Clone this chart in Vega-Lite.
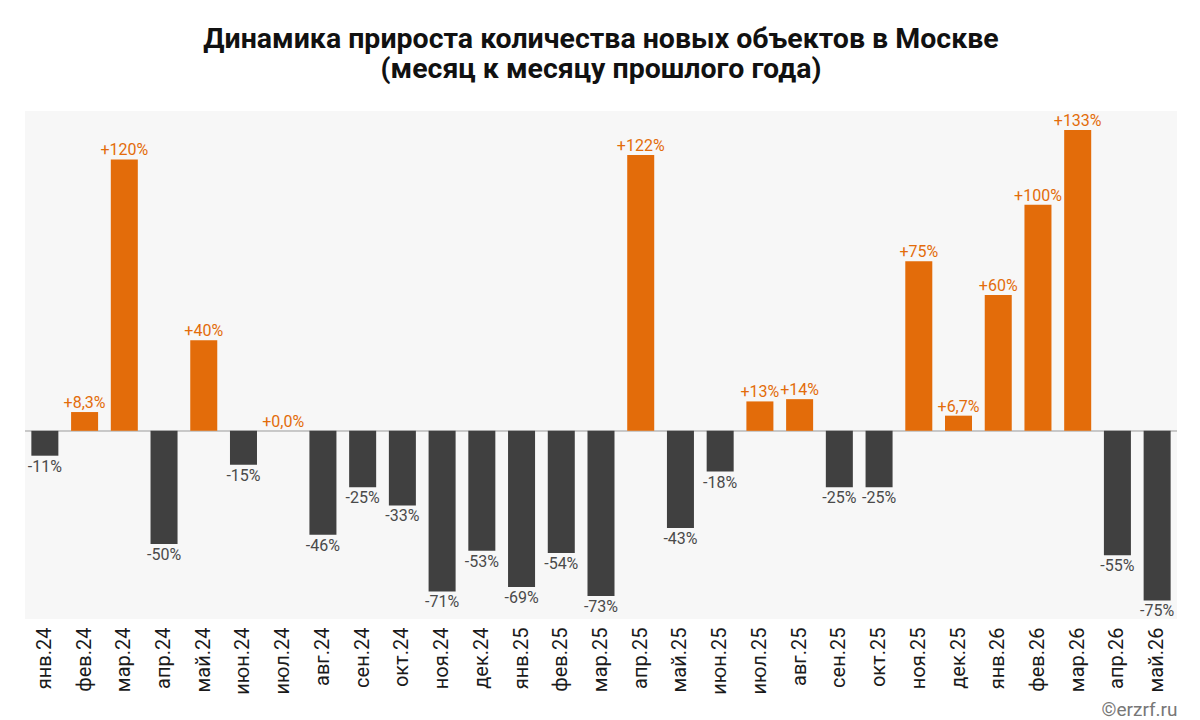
{
  "$schema": "https://vega.github.io/schema/vega-lite/v6.json",
  "width": 1152,
  "height": 508,
  "autosize": {"type": "none"},
  "padding": {"left": 25, "top": 111, "right": 23, "bottom": 101},
  "background": "white",
  "config": {
    "font": "Roboto",
    "view": {"fill": "#f7f7f7", "stroke": null}
  },
  "title": {
    "text": ["Динамика прироста количества новых объектов в Москве", "(месяц к месяцу прошлого года)"],
    "fontSize": 28.5,
    "fontWeight": "bold",
    "font": "Roboto",
    "color": "#111111",
    "lineHeight": 30,
    "anchor": "middle",
    "offset": 28
  },
  "data": {
    "values": [
      {"m": "янв.24", "v": -11, "t": "-11%"},
      {"m": "фев.24", "v": 8.3, "t": "+8,3%"},
      {"m": "мар.24", "v": 120, "t": "+120%"},
      {"m": "апр.24", "v": -50, "t": "-50%"},
      {"m": "май.24", "v": 40, "t": "+40%"},
      {"m": "июн.24", "v": -15, "t": "-15%"},
      {"m": "июл.24", "v": 0, "t": "+0,0%"},
      {"m": "авг.24", "v": -46, "t": "-46%"},
      {"m": "сен.24", "v": -25, "t": "-25%"},
      {"m": "окт.24", "v": -33, "t": "-33%"},
      {"m": "ноя.24", "v": -71, "t": "-71%"},
      {"m": "дек.24", "v": -53, "t": "-53%"},
      {"m": "янв.25", "v": -69, "t": "-69%"},
      {"m": "фев.25", "v": -54, "t": "-54%"},
      {"m": "мар.25", "v": -73, "t": "-73%"},
      {"m": "апр.25", "v": 122, "t": "+122%"},
      {"m": "май.25", "v": -43, "t": "-43%"},
      {"m": "июн.25", "v": -18, "t": "-18%"},
      {"m": "июл.25", "v": 13, "t": "+13%"},
      {"m": "авг.25", "v": 14, "t": "+14%"},
      {"m": "сен.25", "v": -25, "t": "-25%"},
      {"m": "окт.25", "v": -25, "t": "-25%"},
      {"m": "ноя.25", "v": 75, "t": "+75%"},
      {"m": "дек.25", "v": 6.7, "t": "+6,7%"},
      {"m": "янв.26", "v": 60, "t": "+60%"},
      {"m": "фев.26", "v": 100, "t": "+100%"},
      {"m": "мар.26", "v": 133, "t": "+133%"},
      {"m": "апр.26", "v": -55, "t": "-55%"},
      {"m": "май.26", "v": -75, "t": "-75%"}
    ]
  },
  "encoding": {
    "x": {
      "field": "m",
      "type": "nominal",
      "sort": null,
      "scale": {"paddingInner": 0.32, "paddingOuter": 0.16},
      "axis": {
        "title": "©erzrf.ru",
        "titleFont": "Roboto",
        "titleFontSize": 19,
        "titleFontWeight": "normal",
        "titleColor": "#777777",
        "titleAnchor": "end",
        "titlePadding": 6,
        "labelAngle": -90,
        "labelAlign": "right",
        "labelBaseline": "middle",
        "labelFontSize": 20,
        "labelColor": "#1a1a1a",
        "labelPadding": 8,
        "ticks": false,
        "domain": false,
        "grid": false
      }
    },
    "y": {
      "field": "v",
      "type": "quantitative",
      "scale": {"domain": [-83.2, 141.4], "nice": false, "zero": true},
      "axis": null
    }
  },
  "layer": [
    {
      "mark": {"type": "rule", "color": "#c8c8c8", "strokeWidth": 1},
      "encoding": {"y": {"datum": 0}, "x": null}
    },
    {
      "mark": {"type": "bar"},
      "encoding": {
        "color": {
          "condition": {"test": "datum.v >= 0", "value": "#E36C0A"},
          "value": "#404040"
        }
      }
    },
    {
      "transform": [{"filter": "datum.v >= 0"}],
      "mark": {"type": "text", "baseline": "bottom", "dy": -1, "fontSize": 16, "color": "#E36C0A"},
      "encoding": {"text": {"field": "t"}}
    },
    {
      "transform": [{"filter": "datum.v < 0"}],
      "mark": {"type": "text", "baseline": "top", "dy": 3, "fontSize": 16, "color": "#4a4a4a"},
      "encoding": {"text": {"field": "t"}}
    }
  ]
}
